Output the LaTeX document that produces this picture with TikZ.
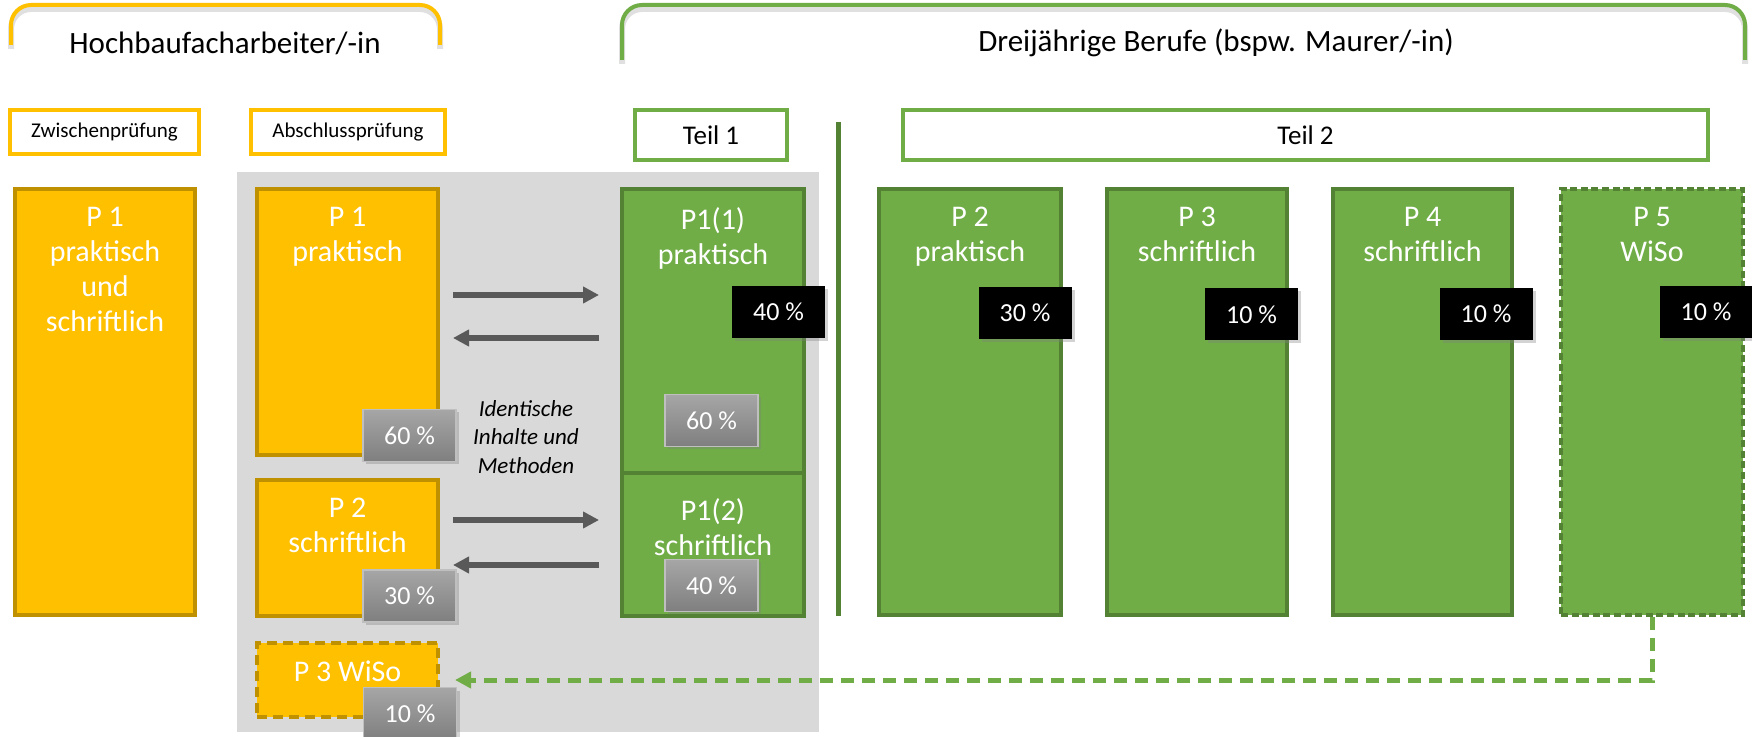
\documentclass[tikz,border=0pt]{standalone}
\usepackage{fontspec}
\setmainfont{Carlito}
\usetikzlibrary{fit, shadows, arrows.meta}
\definecolor{hbOrange}{HTML}{FFC000}
\definecolor{hbDark}{HTML}{BF9000}
\definecolor{djGreen}{HTML}{70AD47}
\definecolor{djDark}{HTML}{548235}
\definecolor{zoneGray}{HTML}{D9D9D9}
\definecolor{flowGray}{HTML}{595959}
\definecolor{tagTop}{HTML}{A6A6A6}
\definecolor{tagBot}{HTML}{7F7F7F}
\definecolor{tagEdge}{HTML}{BFBFBF}
\newcommand{\titlefont}{\fontsize{15.5}{18}\selectfont}
\newcommand{\headfont}{\fontsize{10.5}{12}\selectfont}
\newcommand{\teilfont}{\fontsize{13.5}{16}\selectfont}
\newcommand{\boxfont}{\fontsize{15}{17.5}\selectfont}
\newcommand{\tagfont}{\fontsize{13}{15}\selectfont}
\newcommand{\txttop}{207}
\newcommand{\txtlow}{498}

\begin{document}
\begin{tikzpicture}[x=0.5pt, y=-0.5pt,
	exam/.style={draw, line width=2pt, inner sep=0pt},
	hbbox/.style={exam, draw=hbOrange!75!black, fill=hbOrange},
	djbox/.style={exam, draw=djDark, fill=djGreen},
	headbox/.style={draw, line width=2pt, fill=white, inner sep=0pt},
	boxtxt/.style={anchor=north, align=center, text=white, inner sep=0pt, font=\boxfont},
	tag/.style={minimum width=46.5pt, minimum height=26pt, inner sep=0pt, text=white, font=\tagfont},
	blacktag/.style={tag, fill=black, drop shadow={shadow xshift=1.5pt, shadow yshift=-1.5pt, opacity=.35}},
	graytag/.style={tag, top color=tagTop, bottom color=tagBot, draw=tagEdge, line width=.75pt, drop shadow={shadow xshift=1.5pt, shadow yshift=-1.5pt, opacity=.35}},
	flow/.style={-{Triangle[length=8pt, width=8pt]}, line width=3pt, draw=flowGray},
	bracket/.style={line width=2pt, rounded corners=10pt, preaction={draw=black, opacity=.12, line width=3pt, transform canvas={yshift=-2pt}}}]
	\useasboundingbox (0,0) rectangle (1752,737);
		% brackets and titles
		\draw[bracket, draw=hbOrange] (11,45) -- (11,5) -- (440,5) -- (440,45);
		\draw[bracket, draw=djGreen] (622,60) -- (622,5) -- (1745,5) -- (1745,60);
		\node[font=\titlefont] (ttlhb) at (225,43) {Hochbaufacharbeiter/-in};
		\node[font=\titlefont] (ttldj) at (1216,43) {Dreijährige Berufe (bspw. Maurer/-in)};
		% headers
		\node[headbox, draw=hbOrange, font=\headfont, minimum width=94.5pt, minimum height=22pt] (zwp) at (104.5,132) {Zwischenprüfung};
		\node[headbox, draw=hbOrange, font=\headfont, minimum width=97pt, minimum height=22pt] (abp) at (348,132) {Abschlussprüfung};
		\node[headbox, draw=djGreen, font=\teilfont, minimum width=76pt, minimum height=25pt] (teil1) at (711,135) {Teil 1};
		\node[headbox, draw=djGreen, font=\teilfont, minimum width=402.5pt, minimum height=25pt] (teil2) at (1305.5,135) {Teil 2};
		\draw[line width=2.5pt, djDark] (838,122) -- (838,616); % Teil 1 | Teil 2
		% grey zone
		\node[fill=zoneGray, inner sep=0pt, fit={(237,172) (819,732)}] (zone) {};
		% exams
		\node[hbbox, fit={(15,189) (195,615)}] (zp1) {};
		\node[hbbox, fit={(257,189) (438,455)}] (ap1) {};
		\node[hbbox, fit={(257,480) (438,616)}] (ap2) {};
		\node[hbbox, dash pattern=on 5pt off 3pt, fit={(257,643) (438,717)}] (ap3) {};
		\node[djbox, fit={(622,189) (804,473)}] (g11) {};
		\node[djbox, fit={(622,473) (804,616)}] (g12) {};
		\node[djbox, fit={(879,189) (1061,615)}] (gp2) {};
		\node[djbox, fit={(1107,189) (1287,615)}] (gp3) {};
		\node[djbox, fit={(1333,189) (1512,615)}] (gp4) {};
		\node[djbox, dash pattern=on 3.5pt off 1.8pt, fit={(1561,189) (1743,615)}] (gp5) {};
		% exam texts
		\node[boxtxt] (zp1txt) at (105,\txttop) {P 1\\praktisch\\und\\schriftlich};
		\node[boxtxt] (ap1txt) at (347.5,\txttop) {P 1\\praktisch};
		\node[boxtxt] (ap2txt) at (347.5,\txtlow) {P 2\\schriftlich};
		\node[boxtxt] (ap3txt) at (347.5,660) {P 3 WiSo};
		\node[boxtxt] (g11txt) at (713,\txttop) {P1(1)\\praktisch};
		\node[boxtxt] (g12txt) at (713,\txtlow) {P1(2)\\schriftlich};
		\node[boxtxt] (gp2txt) at (970,\txttop) {P 2\\praktisch};
		\node[boxtxt] (gp3txt) at (1197,\txttop) {P 3\\schriftlich};
		\node[boxtxt] (gp4txt) at (1422.5,\txttop) {P 4\\schriftlich};
		\node[boxtxt] (gp5txt) at (1652,\txttop) {P 5\\WiSo};
		\node[align=center, font=\fontsize{11.5}{14.25}\selectfont\itshape] (idtxt) at (526,437) {Identische\\Inhalte und\\Methoden};
		% shares
		\node[blacktag] (b40) at (778.5,312) {40 \%};
		\node[blacktag] (b30) at (1025,313) {30 \%};
		\node[blacktag] (b10a) at (1251.5,314.5) {10 \%};
		\node[blacktag] (b10b) at (1486,314) {10 \%};
		\node[blacktag] (b10c) at (1706,312) {10 \%};
		\node[graytag] (g60a) at (409.5,435.5) {60 \%};
		\node[graytag] (g30) at (409.5,596) {30 \%};
		\node[graytag] (g10) at (410,713.5) {10 \%};
		\node[graytag] (g60b) at (711.5,420.5) {60 \%};
		\node[graytag] (g40) at (711.5,585.5) {40 \%};
		% flows
		\draw[flow, shorten <=6.5pt, shorten >=10.5pt] ([yshift=13.5pt]ap1.east) -- ([yshift=18pt]g11.west);
		\draw[flow, shorten <=10.5pt, shorten >=6.5pt] ([yshift=-3.5pt]g11.west) -- ([yshift=-8pt]ap1.east);
		\draw[flow, shorten <=6.5pt, shorten >=10.5pt] ([yshift=14pt]ap2.east) -- ([yshift=12.25pt]g12.west);
		\draw[flow, shorten <=10.5pt, shorten >=6.5pt] ([yshift=-10.25pt]g12.west) -- ([yshift=-8.5pt]ap2.east);
		\draw[-{Triangle[length=8pt, width=8pt]}, line width=2.5pt, djGreen, dash pattern=on 6.5pt off 4pt, shorten >=7.5pt] (gp5.south) |- (ap3.east);
	\end{tikzpicture}
\end{document}
